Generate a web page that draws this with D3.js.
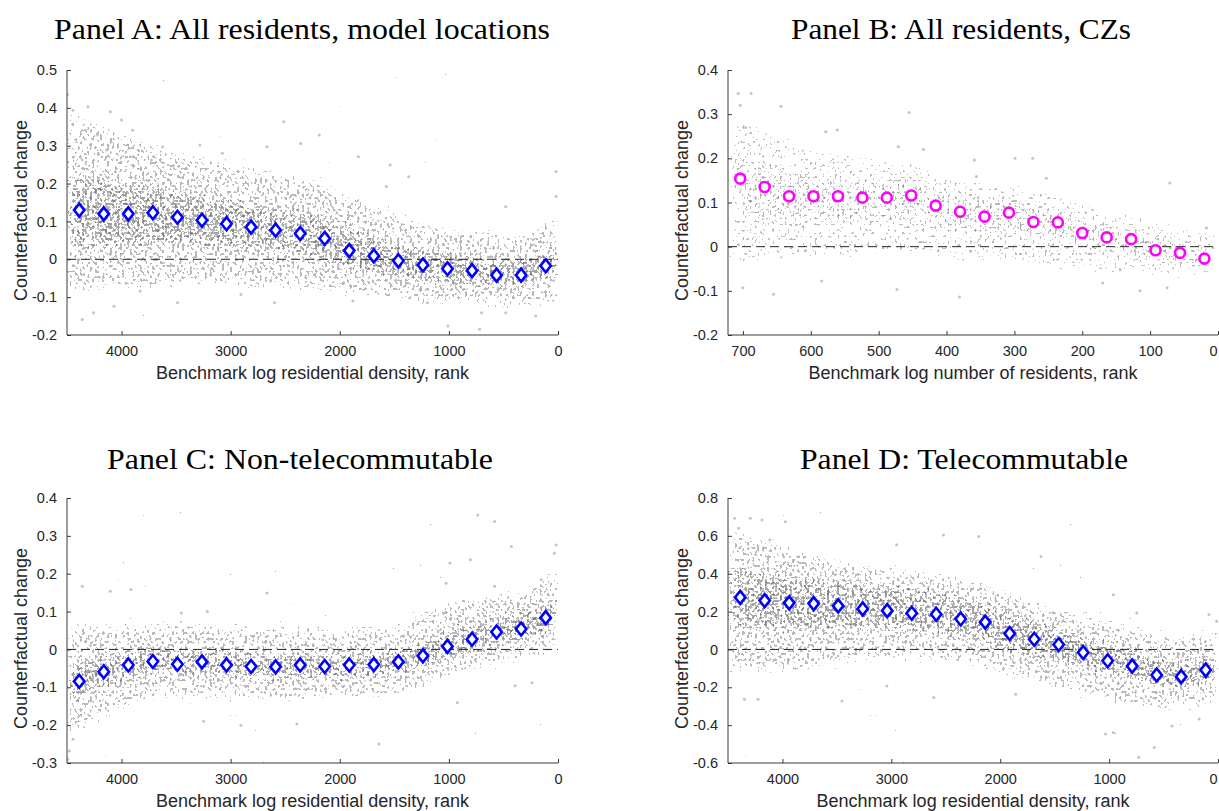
<!DOCTYPE html>
<html lang="en">
<head>
<meta charset="UTF-8">
<title>Counterfactual change by rank</title>
<script src="https://d3js.org/d3.v7.min.js"></script>
<style>
  body { margin: 0; background: #fff; }
  svg { display: block; }
  .tick-label { font-family: "Liberation Sans", Arial, sans-serif; font-size: 14.5px; fill: #262626; }
  .axis-label { font-family: "Liberation Sans", Arial, sans-serif; font-size: 18px; fill: #262626; }
  .panel-title { font-family: "Liberation Serif", "Times New Roman", serif; font-size: 30px; fill: #000; }
</style>
</head>
<body>
<script>
// bin centres (rank) used for the binned means
const densityBins = [4388, 4163, 3938, 3713, 3488, 3263, 3038, 2813, 2588, 2363, 2138, 1913, 1688, 1463, 1238, 1013, 788, 563, 338, 113];
const czBins = [704, 668, 632, 596, 560, 524, 488, 452, 416, 380, 344, 308, 272, 236, 200, 164, 128, 92, 56, 20];

// binned means
const meansA = [0.130, 0.120, 0.120, 0.123, 0.111, 0.103, 0.094, 0.085, 0.077, 0.068, 0.055, 0.023, 0.009, -0.004, -0.015, -0.025, -0.030, -0.042, -0.042, -0.017];
const meansB = [0.154, 0.135, 0.114, 0.114, 0.114, 0.111, 0.111, 0.116, 0.093, 0.079, 0.068, 0.077, 0.056, 0.055, 0.031, 0.021, 0.017, -0.008, -0.014, -0.027];
const meansC = [-0.084, -0.059, -0.041, -0.032, -0.039, -0.033, -0.041, -0.045, -0.046, -0.041, -0.045, -0.041, -0.040, -0.033, -0.017, 0.008, 0.027, 0.046, 0.054, 0.084];
const meansD = [0.275, 0.258, 0.246, 0.242, 0.230, 0.214, 0.205, 0.191, 0.186, 0.161, 0.144, 0.084, 0.054, 0.026, -0.016, -0.060, -0.088, -0.135, -0.144, -0.109];

// spread of the underlying scatter, read per bin (edges at both ends of the rank range)
const densityBandRanks = [4500, 4388, 4163, 3938, 3713, 3488, 3263, 3038, 2813, 2588, 2363, 2138, 1913, 1688, 1463, 1238, 1013, 788, 563, 338, 113, 0];
const czBandRanks = [722, 704, 668, 632, 596, 560, 524, 488, 452, 416, 380, 344, 308, 272, 236, 200, 164, 128, 92, 56, 20, 0];

const outerLoA = [-0.10, -0.09, -0.08, -0.08, -0.08, -0.07, -0.07, -0.07, -0.08, -0.07, -0.08, -0.08, -0.10, -0.10, -0.11, -0.12, -0.12, -0.12, -0.13, -0.13, -0.12, -0.11];
const outerHiA = [0.40, 0.38, 0.35, 0.33, 0.30, 0.28, 0.27, 0.26, 0.24, 0.23, 0.22, 0.20, 0.17, 0.15, 0.12, 0.10, 0.08, 0.08, 0.07, 0.06, 0.10, 0.12];
const innerLoA = [0.02, 0.03, 0.03, 0.03, 0.04, 0.04, 0.03, 0.03, 0.02, 0.02, 0.01, 0.00, -0.03, -0.04, -0.05, -0.06, -0.07, -0.07, -0.08, -0.08, -0.06, -0.05];
const innerHiA = [0.23, 0.22, 0.21, 0.20, 0.20, 0.18, 0.17, 0.16, 0.15, 0.14, 0.13, 0.12, 0.08, 0.06, 0.04, 0.03, 0.02, 0.01, 0.00, 0.00, 0.03, 0.04];

const outerLoB = [-0.05, -0.04, -0.04, -0.03, -0.03, -0.03, -0.02, -0.02, -0.02, -0.03, -0.03, -0.04, -0.04, -0.05, -0.05, -0.06, -0.06, -0.06, -0.07, -0.07, -0.07, -0.07];
const outerHiB = [0.31, 0.30, 0.27, 0.24, 0.22, 0.22, 0.21, 0.20, 0.20, 0.17, 0.16, 0.15, 0.15, 0.13, 0.13, 0.10, 0.09, 0.08, 0.06, 0.05, 0.04, 0.04];
const innerLoB = [0.06, 0.06, 0.05, 0.05, 0.05, 0.05, 0.05, 0.05, 0.06, 0.04, 0.03, 0.02, 0.03, 0.01, 0.01, -0.01, -0.02, -0.02, -0.04, -0.04, -0.05, -0.05];
const innerHiB = [0.21, 0.20, 0.20, 0.18, 0.17, 0.17, 0.16, 0.16, 0.16, 0.14, 0.13, 0.12, 0.12, 0.10, 0.10, 0.07, 0.06, 0.05, 0.03, 0.02, 0.00, 0.00];

const outerLoC = [-0.25, -0.22, -0.18, -0.15, -0.13, -0.13, -0.13, -0.13, -0.13, -0.14, -0.13, -0.13, -0.13, -0.13, -0.12, -0.10, -0.08, -0.06, -0.04, -0.03, -0.01, 0.00];
const outerHiC = [0.07, 0.07, 0.06, 0.07, 0.07, 0.07, 0.07, 0.06, 0.07, 0.06, 0.06, 0.06, 0.06, 0.06, 0.06, 0.10, 0.13, 0.14, 0.15, 0.15, 0.20, 0.22];
const innerLoC = [-0.15, -0.13, -0.10, -0.08, -0.07, -0.07, -0.07, -0.08, -0.08, -0.08, -0.08, -0.08, -0.08, -0.08, -0.07, -0.05, -0.03, -0.01, 0.01, 0.02, 0.04, 0.05];
const innerHiC = [-0.03, -0.03, -0.02, 0.00, 0.01, 0.00, 0.00, 0.00, -0.01, -0.01, -0.01, -0.01, -0.01, -0.01, 0.00, 0.02, 0.05, 0.07, 0.09, 0.10, 0.13, 0.14];

const outerLoD = [-0.13, -0.12, -0.12, -0.12, -0.10, -0.08, -0.06, -0.05, -0.05, -0.06, -0.08, -0.10, -0.15, -0.18, -0.20, -0.24, -0.28, -0.30, -0.32, -0.33, -0.30, -0.28];
const outerHiD = [0.65, 0.62, 0.58, 0.55, 0.50, 0.48, 0.45, 0.43, 0.42, 0.40, 0.38, 0.36, 0.30, 0.25, 0.22, 0.19, 0.15, 0.12, 0.08, 0.07, 0.10, 0.12];
const innerLoD = [0.10, 0.10, 0.10, 0.10, 0.10, 0.10, 0.10, 0.10, 0.09, 0.08, 0.06, 0.04, -0.02, -0.05, -0.07, -0.10, -0.14, -0.16, -0.20, -0.22, -0.18, -0.16];
const innerHiD = [0.44, 0.42, 0.40, 0.40, 0.38, 0.37, 0.35, 0.33, 0.32, 0.30, 0.28, 0.26, 0.20, 0.15, 0.12, 0.08, 0.03, 0.00, -0.05, -0.06, -0.03, -0.01];

// stray points outside the main cloud, [rank, value]
const strayA = [[4495, 0.435], [4445, 0.394], [4308, 0.403], [4222, 0.328], [4103, 0.390], [4000, 0.368], [4257, -0.141], [4360, -0.159],
  [4069, -0.124], [3829, -0.084], [3487, -0.115], [3282, 0.302], [3077, 0.280], [2667, 0.297], [2513, 0.363], [2188, 0.328],
  [2359, 0.306], [1829, 0.271], [1573, 0.192], [1368, 0.218], [1538, 0.249], [1009, -0.176], [718, -0.185], [479, -0.141],
  [205, -0.150], [17, 0.232], [17, 0.166], [479, 0.139], [1197, -0.115], [1880, -0.110], [2599, -0.115], [2906, -0.093],
  [701, -0.141], [1265, -0.080], [4137, 0.289], [3727, 0.262], [3624, 0.297], [3898, 0.341]];
const strayB = [[707, 0.347], [688, 0.347], [704, 0.320], [696, 0.270], [644, 0.318], [578, 0.260], [561, 0.264], [455, 0.304],
  [471, 0.226], [434, 0.220], [655, -0.108], [700, -0.093], [584, -0.078], [473, -0.097], [381, -0.114], [273, 0.200],
  [299, 0.200], [71, 0.144], [115, -0.100], [75, -0.093], [17, 0.042], [144, -0.052], [170, -0.082], [359, 0.196],
  [253, 0.155], [356, 0.159]];
const strayC = [[4495, -0.290], [4479, -0.268], [4445, -0.237], [4360, 0.167], [4103, 0.154], [3915, 0.158], [3453, 0.096],
  [3214, 0.100], [2667, 0.149], [1641, -0.250], [2906, -0.200], [3248, -0.190], [2393, -0.197], [735, 0.355], [581, 0.338],
  [427, 0.272], [17, 0.276], [34, 0.254], [991, 0.228], [803, 0.237], [923, -0.140], [393, -0.096], [239, -0.088],
  [581, 0.167], [154, 0.184], [1026, 0.175]];
const strayD = [[4439, 0.693], [4295, 0.693], [4188, 0.684], [3973, 0.675], [4403, 0.640], [4116, 0.579], [2951, 0.553],
  [2521, 0.605], [2198, 0.596], [1625, 0.491], [4349, -0.263], [4224, -0.263], [3453, -0.272], [3041, -0.193], [2610, -0.254],
  [1858, -0.237], [1033, -0.447], [961, -0.439], [728, -0.570], [585, -0.518], [423, -0.404], [173, -0.368], [83, 0.184],
  [11, 0.149], [961, 0.289], [746, 0.193]];

const titles = ["Panel A: All residents, model locations", "Panel B: All residents, CZs", "Panel C: Non-telecommutable", "Panel D: Telecommutable"];
const yLabel = "Counterfactual change";
const xLabels = ["Benchmark log residential density, rank", "Benchmark log number of residents, rank",
  "Benchmark log residential density, rank", "Benchmark log residential density, rank"];
const densityTicks = [4000, 3000, 2000, 1000, 0];
const czTicks = [700, 600, 500, 400, 300, 200, 100, 0];

const panels = [
  { title: titles[0], xLabel: xLabels[0], box: [67, 558, 70, 335], xDomain: [4500, 0], yDomain: [-0.2, 0.5], yStep: 0.1,
    xTicks: densityTicks, bins: densityBins, means: meansA, bandRanks: densityBandRanks,
    outer: [outerLoA, outerHiA], inner: [innerLoA, innerHiA], stray: strayA, marker: "diamond",
    titleX: 302, titleY: 39, titleW: 496, sparse: false },
  { title: titles[1], xLabel: xLabels[1], box: [728, 1218, 70, 335], xDomain: [722, 0], yDomain: [-0.2, 0.4], yStep: 0.1,
    xTicks: czTicks, bins: czBins, means: meansB, bandRanks: czBandRanks,
    outer: [outerLoB, outerHiB], inner: [innerLoB, innerHiB], stray: strayB, marker: "circle",
    titleX: 961, titleY: 39, titleW: 340, sparse: true },
  { title: titles[2], xLabel: xLabels[2], box: [67, 558, 498, 763], xDomain: [4500, 0], yDomain: [-0.3, 0.4], yStep: 0.1,
    xTicks: densityTicks, bins: densityBins, means: meansC, bandRanks: densityBandRanks,
    outer: [outerLoC, outerHiC], inner: [innerLoC, innerHiC], stray: strayC, marker: "diamond",
    titleX: 300, titleY: 469, titleW: 386, sparse: false },
  { title: titles[3], xLabel: xLabels[3], box: [728, 1218, 498, 763], xDomain: [4500, 0], yDomain: [-0.6, 0.8], yStep: 0.2,
    xTicks: densityTicks, bins: densityBins, means: meansD, bandRanks: densityBandRanks,
    outer: [outerLoD, outerHiD], inner: [innerLoD, innerHiD], stray: strayD, marker: "diamond",
    titleX: 964, titleY: 469, titleW: 328, sparse: false }
];

const W = 1219, H = 811;
const svg = d3.select("body").append("svg").attr("width", W).attr("height", H);
const defs = svg.append("defs");

// dotted-cloud filter: noise plus a blurred copy of the band, thresholded,
// then softened and re-thresholded so the specks come out round
function speckle(id, seed, freq, lift, cut, color, opacity) {
  const f = defs.append("filter").attr("id", id)
    .attr("filterUnits", "userSpaceOnUse").attr("x", 0).attr("y", 0).attr("width", W).attr("height", H);
  f.append("feGaussianBlur").attr("in", "SourceAlpha").attr("stdDeviation", 6).attr("result", "soft");
  f.append("feTurbulence").attr("type", "fractalNoise").attr("baseFrequency", freq)
    .attr("numOctaves", 1).attr("seed", seed).attr("result", "noise");
  f.append("feColorMatrix").attr("in", "noise").attr("type", "matrix")
    .attr("values", "0 0 0 0 0  0 0 0 0 0  0 0 0 0 0  1 0 0 0 0").attr("result", "nA");
  f.append("feComposite").attr("in", "nA").attr("in2", "soft").attr("operator", "arithmetic")
    .attr("k1", 0).attr("k2", 1).attr("k3", lift).attr("k4", 0).attr("result", "sum");
  const ct = f.append("feComponentTransfer").attr("in", "sum").attr("result", "hard");
  const k = 30;
  ct.append("feFuncA").attr("type", "linear").attr("slope", k).attr("intercept", -k * cut);
  f.append("feGaussianBlur").attr("in", "hard").attr("stdDeviation", 0.75).attr("result", "round");
  const ct2 = f.append("feComponentTransfer").attr("in", "round").attr("result", "mask");
  ct2.append("feFuncA").attr("type", "linear").attr("slope", 2.5).attr("intercept", -0.45);
  f.append("feFlood").attr("flood-color", color).attr("flood-opacity", opacity).attr("result", "ink");
  f.append("feComposite").attr("in", "ink").attr("in2", "mask").attr("operator", "in");
}
speckle("spOuter", 3, "0.4 0.34", 0.27, 0.845, "#8a8a8a", 0.6);
speckle("spInner", 11, "0.4 0.34", 0.27, 0.812, "#5a5a5a", 0.55);
speckle("spSparseOuter", 5, "0.4 0.34", 0.22, 0.865, "#8f8f8f", 0.6);
speckle("spSparseInner", 17, "0.4 0.34", 0.22, 0.855, "#7a7a7a", 0.5);

const fmt = v => {
  const r = Math.round(v * 10) / 10;
  return Math.abs(r) < 1e-9 ? "0" : String(r);
};

panels.forEach((p, i) => {
  const [x0, x1, y0, y1] = p.box;
  const x = d3.scaleLinear().domain(p.xDomain).range([x0, x1]);
  const y = d3.scaleLinear().domain(p.yDomain).range([y1, y0]);
  const g = svg.append("g");

  defs.append("clipPath").attr("id", "clip" + i)
    .append("rect").attr("x", x0).attr("y", y0).attr("width", x1 - x0).attr("height", y1 - y0);
  const plot = g.append("g").attr("clip-path", `url(#clip${i})`);

  // scatter cloud
  const band = (lo, hi) => d3.area()
    .x((d, j) => x(p.bandRanks[j]))
    .y0((d, j) => y(lo[j]))
    .y1((d, j) => y(hi[j]))
    .curve(d3.curveBasis)(p.bandRanks);

  plot.append("path").attr("d", band(p.outer[0], p.outer[1]))
    .attr("fill", "#000").attr("filter", `url(#${p.sparse ? "spSparseOuter" : "spOuter"})`);
  plot.append("path").attr("d", band(p.inner[0], p.inner[1]))
    .attr("fill", "#000").attr("filter", `url(#${p.sparse ? "spSparseInner" : "spInner"})`);

  plot.selectAll("circle.stray").data(p.stray).enter().append("circle")
    .attr("class", "stray")
    .attr("cx", d => x(d[0])).attr("cy", d => y(d[1])).attr("r", 1.5)
    .attr("fill", "#8a8a8a").attr("fill-opacity", 0.5);

  // zero line
  g.append("line").attr("x1", x0).attr("x2", x1).attr("y1", y(0)).attr("y2", y(0))
    .attr("stroke", "#262626").attr("stroke-width", 1).attr("stroke-dasharray", "9,5");

  // binned means
  const pts = p.bins.map((b, j) => [b, p.means[j]]);
  if (p.marker === "diamond") {
    g.selectAll("path.mk").data(pts).enter().append("path")
      .attr("class", "mk")
      .attr("transform", d => `translate(${x(d[0])},${y(d[1])})`)
      .attr("d", "M0,-6.5L5.2,0L0,6.5L-5.2,0Z")
      .attr("fill", "#fff").attr("stroke", "#0000ff").attr("stroke-width", 2.6);
  } else {
    g.selectAll("circle.mk").data(pts).enter().append("circle")
      .attr("class", "mk")
      .attr("cx", d => x(d[0])).attr("cy", d => y(d[1])).attr("r", 5)
      .attr("fill", "#fff").attr("stroke", "#ff00ff").attr("stroke-width", 2.6);
  }

  // axes (left and bottom only, ticks pointing inward)
  const yTicks = d3.range(p.yDomain[0], p.yDomain[1] + p.yStep / 2, p.yStep);
  const yAxis = d3.axisLeft(y).tickValues(yTicks).tickSize(-4).tickFormat(fmt).tickPadding(10);
  const xAxis = d3.axisBottom(x).tickValues(p.xTicks).tickSize(-4).tickFormat(d3.format("d")).tickPadding(11);

  const ya = g.append("g").attr("transform", `translate(${x0},0)`).call(yAxis);
  const xa = g.append("g").attr("transform", `translate(0,${y1})`).call(xAxis);
  [ya, xa].forEach(a => {
    a.attr("font-size", null).attr("font-family", null);
    a.select(".domain").attr("stroke", "#262626").attr("stroke-width", 0.9)
      .attr("d", a === ya ? `M0,${y0}V${y1}` : `M${x0},0H${x1}`);
    a.selectAll(".tick line").attr("stroke", "#262626").attr("stroke-width", 0.9);
    a.selectAll(".tick text").attr("class", "tick-label").attr("fill", null);
  });
  // keep the last "0" inside the page on the right-hand panels
  if (x1 > W - 10) xa.selectAll(".tick text").filter(d => d === 0).attr("text-anchor", "end").attr("dx", -1);

  // labels
  g.append("text").attr("class", "axis-label").attr("text-anchor", "middle")
    .attr("x", (x0 + x1) / 2).attr("y", y1 + 44).text(p.xLabel);
  g.append("text").attr("class", "axis-label").attr("text-anchor", "middle")
    .attr("transform", `translate(${x0 - 40},${(y0 + y1) / 2 + 8}) rotate(-90)`).text(yLabel);
  g.append("text").attr("class", "panel-title").attr("text-anchor", "middle")
    .attr("x", p.titleX).attr("y", p.titleY)
    .attr("textLength", p.titleW).attr("lengthAdjust", "spacingAndGlyphs").text(p.title);
});
</script>
</body>
</html>
